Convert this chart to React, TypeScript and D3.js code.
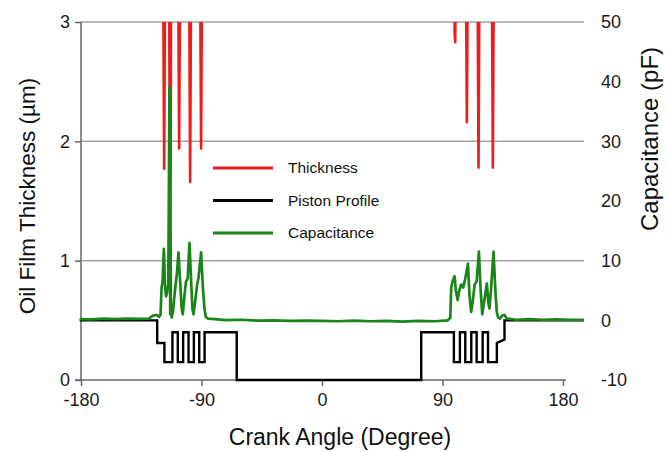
import { useEffect, useRef } from 'react'
import * as d3 from 'd3'

const angleTicks = [-180, -90, 0, 90, 180]
const thicknessTicks = [0, 1, 2, 3]
const capacitanceTicks = [-10, 0, 10, 20, 30, 40, 50]

// oil film thickness spikes [crank angle, µm]; the tops run off the chart
const thicknessSpikes = [
  [[-118.7, 3.6], [-117.9, 1.77], [-117.1, 3.6]],
  [[-114.2, 3.6], [-113.4, 0.55], [-112.6, 3.6]],
  [[-107.5, 3.6], [-106.7, 1.94], [-105.9, 3.6]],
  [[-99.3, 3.6], [-98.5, 1.66], [-97.7, 3.6]],
  [[-91.1, 3.6], [-90.3, 1.94], [-89.5, 3.6]],
  [[98.6, 3.6], [99.1, 2.9], [99.5, 2.83], [100.2, 3.6]],
  [[107.4, 3.6], [108.2, 2.16], [109.0, 3.6]],
  [[116.1, 3.6], [116.9, 1.78], [117.7, 3.6]],
  [[126.8, 3.6], [127.6, 1.78], [128.4, 3.6]],
]

// piston profile [crank angle, µm]
const pistonProfile = [
  [-181, 0.5], [-123.1, 0.5], [-123.1, 0.31], [-117.7, 0.31], [-117.7, 0.15],
  [-111.7, 0.15], [-111.7, 0.4], [-107.7, 0.4], [-107.7, 0.15], [-103.7, 0.15],
  [-103.7, 0.4], [-99.7, 0.4], [-99.7, 0.15], [-95.7, 0.15], [-95.7, 0.4],
  [-91.7, 0.4], [-91.7, 0.15], [-87.7, 0.15], [-87.7, 0.4], [-63.7, 0.4],
  [-63.7, 0], [74.1, 0], [74.1, 0.4], [98.5, 0.4], [98.5, 0.15],
  [103, 0.15], [103, 0.4], [107, 0.4], [107, 0.15], [111.5, 0.15],
  [111.5, 0.4], [115.5, 0.4], [115.5, 0.15], [120, 0.15], [120, 0.4],
  [124, 0.4], [124, 0.15], [130.6, 0.15], [130.6, 0.31], [134.5, 0.33],
  [136.3, 0.34], [136.3, 0.5], [196, 0.5],
]

// capacitance [crank angle, pF]
const capacitance = [
  [-181, 0.2], [-172, 0.15], [-163, 0.3], [-154, 0.2], [-146, 0.3], [-138, 0.25],
  [-129.3, 0.3], [-126.3, 0.8], [-123.3, 0.9], [-121.8, 0.6], [-120.6, 0.9],
  [-119.8, 5.5], [-119.1, 6.5], [-118.1, 12], [-117.3, 6], [-116.5, 4],
  [-115.8, 4.5], [-114.8, 6], [-113.9, 39], [-112.9, 3], [-112.3, 0.5],
  [-111.3, 1.5], [-109.8, 5], [-108.3, 8], [-107.2, 11.4], [-106.1, 7],
  [-104.8, 2], [-104, 1], [-102.8, 4], [-101.6, 6.5], [-100.3, 7],
  [-99, 13], [-97.8, 7], [-96.8, 2], [-96, 1], [-94.8, 3], [-93.3, 6],
  [-92.3, 7], [-90.3, 11.4], [-89.1, 6], [-87.8, 2], [-86.8, 0.6], [-85.3, 0.3],
  [-80, 0.2], [-72, 0.05], [-60, 0.1], [-48, -0.05], [-36, 0], [-24, -0.1],
  [-12, -0.05], [0, -0.1], [12, -0.15], [24, -0.05], [36, -0.15], [48, -0.1],
  [60, -0.2], [72, -0.1], [84, -0.15], [94, 0], [95.8, 0.4], [96.5, 5.5],
  [97.5, 6.5], [99, 7.4], [100, 5], [101.3, 3.4], [102.5, 5], [104, 6], [105.5, 5.5],
  [107, 7], [109, 9.5], [110.2, 4], [111.4, 1.4], [112.5, 3], [114, 6],
  [115.5, 6.5], [117.2, 11.5], [118.5, 5], [119.7, 1], [121, 3], [123.1, 6.2],
  [124.2, 3], [125.1, 2], [126.5, 6], [128.1, 11.5], [129.5, 5], [130.5, 1.5],
  [131.4, 0.5], [133, 0.3], [134.5, 0.8], [136.3, 0.9], [138, 0.3], [145, 0.1],
  [155, 0.2], [165, 0.1], [175, 0.15], [186, 0.1], [196, 0.1],
]

const legendItems = [
  { label: 'Thickness', color: '#ee1c1c' },
  { label: 'Piston Profile', color: '#000000' },
  { label: 'Capacitance', color: '#1a861a' },
]

const font = '"Liberation Sans", Arial, sans-serif'

function App() {
  const ref = useRef<SVGSVGElement>(null)

  useEffect(() => {
    const width = 668,
      height = 452,
      left = 81,
      right = 563,
      gridEnd = 584,
      top = 22,
      bottom = 380

    const x = d3.scaleLinear().domain([-180, 180]).range([left, right])
    const yL = d3.scaleLinear().domain([0, 3]).range([bottom, top])
    const yR = d3.scaleLinear().domain([-10, 50]).range([bottom, top])

    const svg = d3.select(ref.current)
    svg.selectAll('*').remove()
    svg.attr('width', width).attr('height', height)
    svg.append('rect').attr('width', width).attr('height', height).attr('fill', '#fff')

    svg
      .append('defs')
      .append('clipPath')
      .attr('id', 'plot-clip')
      .append('rect')
      .attr('x', left - 3)
      .attr('y', top)
      .attr('width', gridEnd - left + 3)
      .attr('height', bottom - top + 2)

    // gridlines
    svg
      .append('g')
      .selectAll('line')
      .data(thicknessTicks.filter((d) => d > 0))
      .enter()
      .append('line')
      .attr('x1', left)
      .attr('x2', gridEnd)
      .attr('y1', (d) => yL(d))
      .attr('y2', (d) => yL(d))
      .attr('stroke', '#a0a0a0')
      .attr('stroke-width', 1.5)

    // left axis
    const leftAxis = svg.append('g').attr('transform', `translate(${left},0)`)
    leftAxis.call(d3.axisLeft(yL).tickValues(thicknessTicks).tickSize(6).tickPadding(5).tickFormat((d) => String(d)))
    leftAxis.select('.domain').attr('d', `M0,${top}V${bottom}`)

    // bottom axis
    const bottomAxis = svg.append('g').attr('transform', `translate(0,${bottom})`)
    bottomAxis.call(d3.axisBottom(x).tickValues(angleTicks).tickSize(6).tickPadding(7).tickFormat((d) => String(d)))
    bottomAxis.select('.domain').attr('d', `M${left - 6},0H${right + 3}`)

    // right axis labels only
    svg
      .append('g')
      .selectAll('text')
      .data(capacitanceTicks)
      .enter()
      .append('text')
      .attr('x', 601)
      .attr('y', (d) => yR(d))
      .attr('dy', '0.35em')
      .text((d) => d)

    svg.selectAll('.domain, .tick line').attr('stroke', '#666').attr('stroke-width', 1.5)
    svg.selectAll('text').attr('font-family', font).attr('font-size', 18).attr('fill', '#1a1a1a')

    const plot = svg.append('g').attr('clip-path', 'url(#plot-clip)')

    const lineL = d3
      .line<number[]>()
      .x((d) => x(d[0]))
      .y((d) => yL(d[1]))
    const lineR = d3
      .line<number[]>()
      .x((d) => x(d[0]))
      .y((d) => yR(d[1]))

    plot
      .selectAll('path.thickness')
      .data(thicknessSpikes)
      .enter()
      .append('path')
      .attr('class', 'thickness')
      .attr('d', (d) => lineL(d))
      .attr('fill', 'none')
      .attr('stroke', legendItems[0].color)
      .attr('stroke-width', 2.6)
      .attr('stroke-linejoin', 'round')

    plot
      .append('path')
      .attr('d', lineL(pistonProfile))
      .attr('fill', 'none')
      .attr('stroke', legendItems[1].color)
      .attr('stroke-width', 2.4)

    plot
      .append('path')
      .attr('d', lineR(capacitance))
      .attr('fill', 'none')
      .attr('stroke', legendItems[2].color)
      .attr('stroke-width', 2.7)
      .attr('stroke-linejoin', 'round')

    // legend
    const legend = svg
      .append('g')
      .selectAll('g')
      .data(legendItems)
      .enter()
      .append('g')
      .attr('transform', (_, i) => `translate(213,${168 + i * 32.5})`)
    legend
      .append('line')
      .attr('x2', 60)
      .attr('stroke', (d) => d.color)
      .attr('stroke-width', 2.8)
    legend
      .append('text')
      .attr('x', 75)
      .attr('dy', '0.35em')
      .attr('font-family', font)
      .attr('font-size', 15.5)
      .attr('fill', '#111')
      .text((d) => d.label)

    // axis titles
    svg
      .append('text')
      .attr('x', 340)
      .attr('y', 445)
      .attr('text-anchor', 'middle')
      .attr('font-family', font)
      .attr('font-size', 23)
      .attr('fill', '#111')
      .text('Crank Angle (Degree)')
    svg
      .append('text')
      .attr('transform', 'translate(35,196) rotate(-90)')
      .attr('text-anchor', 'middle')
      .attr('font-family', font)
      .attr('font-size', 22.5)
      .attr('fill', '#111')
      .text('Oil Film Thickness (µm)')
    svg
      .append('text')
      .attr('transform', 'translate(658,139) rotate(-90)')
      .attr('text-anchor', 'middle')
      .attr('font-family', font)
      .attr('font-size', 24)
      .attr('fill', '#111')
      .text('Capacitance (pF)')
  })

  return <svg ref={ref} style={{ position: 'absolute', left: 0, top: 0 }}></svg>
}

export default App
